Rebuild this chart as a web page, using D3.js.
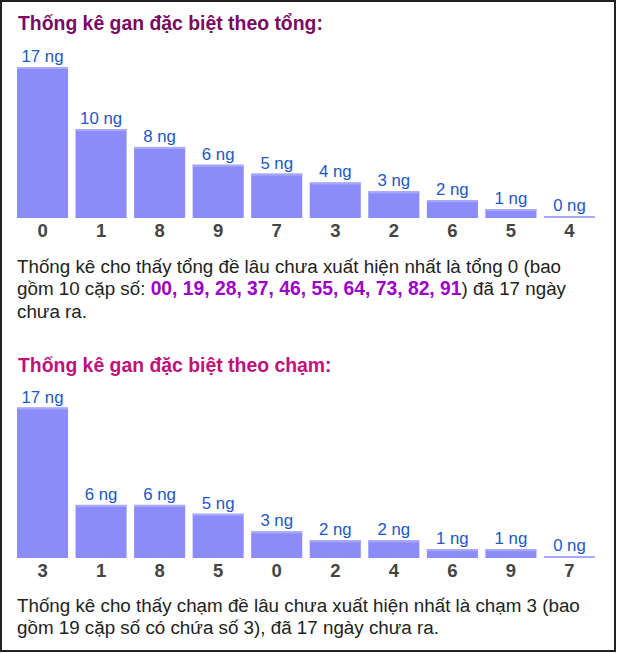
<!DOCTYPE html>
<html><head><meta charset="utf-8">
<script src="https://cdn.jsdelivr.net/npm/d3@7"></script>
<style>
html,body{margin:0;padding:0;background:#fff;}
svg{display:block;font-family:"Liberation Sans",Arial,sans-serif;}
</style></head>
<body><svg id="c" width="617" height="653"></svg>
<script>
const title1 = "Thống kê gan đặc biệt theo tổng:";
const cats1 = ["0","1","8","9","7","3","2","6","5","4"];
const vals1 = [17,10,8,6,5,4,3,2,1,0];
const para1 = [
  [{t:"Thống kê cho thấy tổng đề lâu chưa xuất hiện nhất là tổng 0 (bao"}],
  [{t:"gồm 10 cặp số: "},{t:"00, 19, 28, 37, 46, 55, 64, 73, 82, 91",b:1},{t:") đã 17 ngày"}],
  [{t:"chưa ra."}]
];
const title2 = "Thống kê gan đặc biệt theo chạm:";
const cats2 = ["3","1","8","5","0","2","4","6","9","7"];
const vals2 = [17,6,6,5,3,2,2,1,1,0];
const para2 = [
  [{t:"Thống kê cho thấy chạm đề lâu chưa xuất hiện nhất là chạm 3 (bao"}],
  [{t:"gồm 19 cặp số có chứa số 3), đã 17 ngày chưa ra."}]
];
const unit = " ng";

const svg = d3.select("#c");
svg.append("rect").attr("x",1).attr("y",1).attr("width",614).attr("height",650)
  .attr("fill","#fff").attr("stroke","#222").attr("stroke-width",2);

function section(title, tColor, cats, vals, para, titleY, top, bottom, paraY){
  svg.append("text").attr("x",18).attr("y",titleY).attr("fill",tColor)
    .attr("font-size","19.4px").attr("font-weight","bold").text(title);
  const x = d3.scaleBand().domain(cats).range([17,595]).paddingInner(0.128).paddingOuter(0);
  const y = d3.scaleLinear().domain([0,d3.max(vals)]).range([bottom, top]);
  const g = svg.append("g");
  const data = cats.map((c,i)=>({c, v:vals[i]}));
  const h = d => Math.max(2, bottom - y(d.v));
  g.selectAll("rect.b").data(data).join("rect").attr("class","b")
    .attr("x",d=>x(d.c)).attr("width",x.bandwidth())
    .attr("y",d=>bottom-h(d)).attr("height",d=>h(d)).attr("fill","#8b8bfa");
  g.selectAll("rect.t").data(data).join("rect").attr("class","t")
    .attr("x",d=>x(d.c)).attr("width",x.bandwidth())
    .attr("y",d=>bottom-h(d)).attr("height",2).attr("fill","#a9a9fc");
  g.selectAll("text.v").data(data).join("text").attr("class","v")
    .attr("x",d=>x(d.c)+x.bandwidth()/2).attr("y",d=>bottom-h(d)-5)
    .attr("text-anchor","middle").attr("font-size","16.8px").attr("fill","#1c57c6")
    .text(d=>d.v+unit);
  const ax = d3.axisBottom(x).tickSize(0).tickPadding(0);
  const axg = svg.append("g").attr("transform",`translate(0,${bottom})`).call(ax);
  axg.select(".domain").remove();
  axg.selectAll("text").attr("dy",null).attr("y",19).attr("font-size","18.5px")
    .attr("font-weight","bold").attr("fill","#444").attr("font-family","Liberation Sans, Arial, sans-serif");
  para.forEach((line,i)=>{
    const t = svg.append("text").attr("x",17).attr("y",paraY+i*22.3)
      .attr("font-size","18.8px").attr("fill","#222");
    line.forEach(s=>{
      const ts = t.append("tspan").text(s.t);
      if(s.b) ts.attr("font-weight","bold").attr("fill","#9d00c6").attr("font-size","19.3px");
    });
  });
}
section(title1,"#7a0a62",cats1,vals1,para1,30,67,218,273);
section(title2,"#c0107a",cats2,vals2,para2,372,407.5,558,612);
</script></body></html>
